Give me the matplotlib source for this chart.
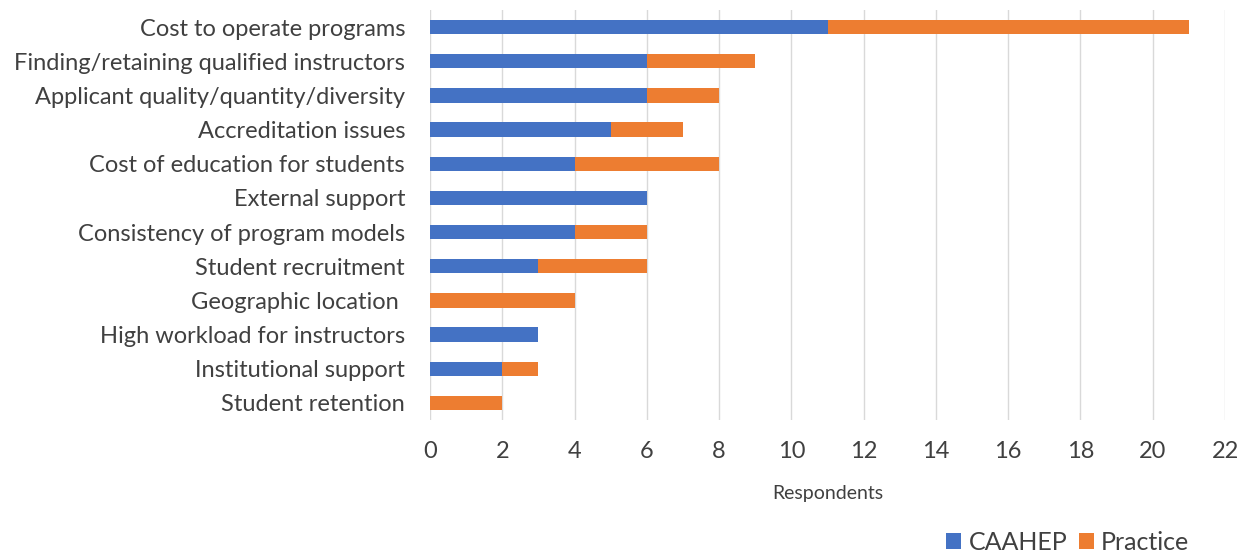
import matplotlib
matplotlib.use("Agg")
import matplotlib.pyplot as plt
import numpy as np

plt.rcParams['font.family'] = ['Lato', 'DejaVu Sans']

categories = [
    "Cost to operate programs",
    "Finding/retaining qualified instructors",
    "Applicant quality/quantity/diversity",
    "Accreditation issues",
    "Cost of education for students",
    "External support",
    "Consistency of program models",
    "Student recruitment",
    "Geographic location ",
    "High workload for instructors",
    "Institutional support",
    "Student retention",
]
caahep = [11, 6, 6, 5, 4, 6, 4, 3, 0, 3, 2, 0]
practice = [10, 3, 2, 2, 4, 0, 2, 3, 4, 0, 1, 2]
xticks = list(range(0, 23, 2))

BLUE = '#4472C4'
ORANGE = '#ED7D31'
TEXT = '#404040'

fig = plt.figure(figsize=(12.48, 5.54), dpi=100)
ax = fig.add_axes([0.3446, 0.2419, 0.637, 0.740])

y = np.arange(len(categories))
ax.barh(y, caahep, height=0.42, color=BLUE, label='CAAHEP', zorder=3)
ax.barh(y, practice, left=caahep, height=0.42, color=ORANGE, label='Practice', zorder=3)

ax.set_ylim(len(categories) - 0.5, -0.5)
ax.set_xlim(0, 22)
ax.set_yticks(y)
ax.set_yticklabels(categories, fontsize=17, color=TEXT)
ax.set_xticks(xticks)
ax.set_xticklabels([str(t) for t in xticks], fontsize=17, color=TEXT)
ax.tick_params(axis='both', length=0)
ax.tick_params(axis='x', pad=15)
ax.tick_params(axis='y', pad=18)
ax.grid(axis='x', color='#D9D9D9', linewidth=1, zorder=0)
for s in ax.spines.values():
    s.set_visible(False)

ax.set_xlabel("Respondents", fontsize=14, color=TEXT, labelpad=17)

fig.legend(loc='lower right', bbox_to_anchor=(0.971, -0.04), ncol=2, frameon=False,
           fontsize=18, handlelength=0.6, handleheight=0.6, handletextpad=0.3,
           columnspacing=0.45, labelcolor=TEXT)

fig.savefig("out.png", dpi=100, facecolor='white')
